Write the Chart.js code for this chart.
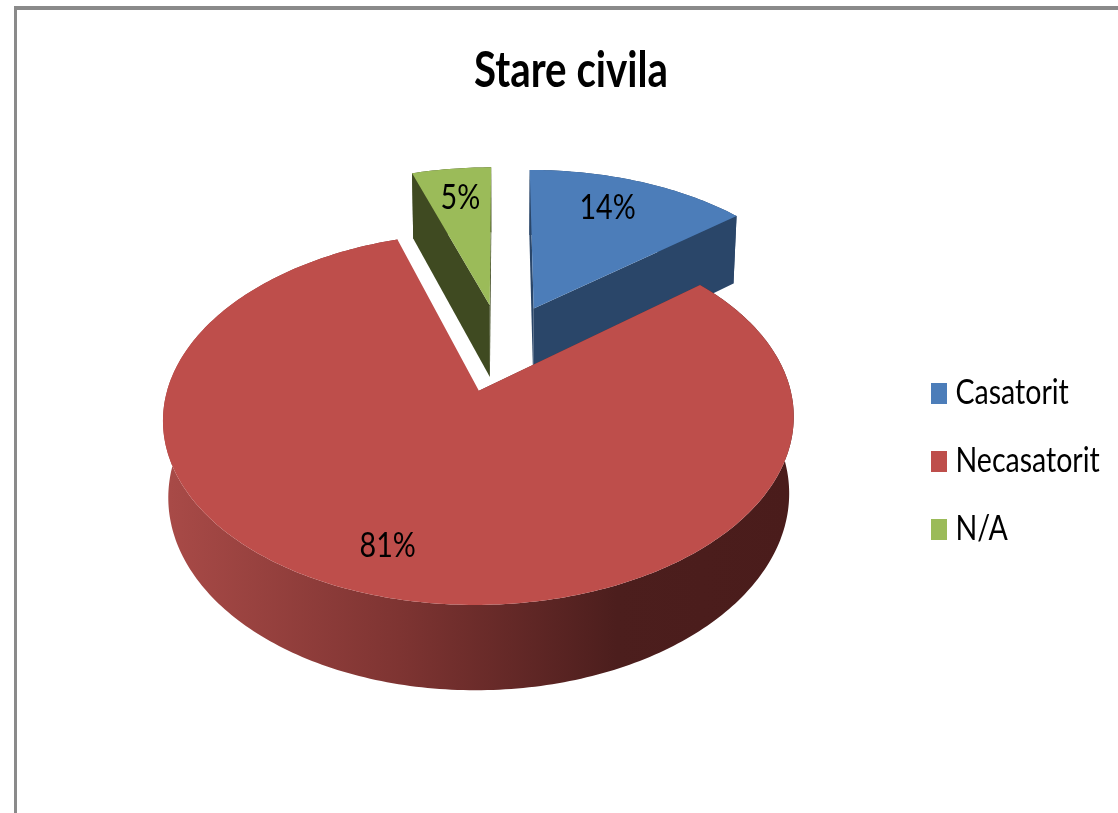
<!DOCTYPE html>
<html>
<head>
<meta charset="utf-8">
<style>html,body{margin:0;padding:0;background:#fff}#w{width:1118px;height:813px}</style>
<script src="https://cdn.jsdelivr.net/npm/chart.js@4"></script>
</head>
<body>
<div id="w"><canvas id="c" width="1118" height="813"></canvas></div>
<script>
const chartTitle = "Stare civila";
const categories = ["Casatorit", "Necasatorit", "N/A"];
const seriesValues = [14, 81, 5];
const faceColors = ["#4C7DB9", "#BE4E4B", "#9BBB59"];
const wallColors = ["#2A4669", "#6E2E2C", "#3F4A21"];
const redWallStops = ["#A84A47", "#7E3432", "#4C1E1D", "#4A1C1B"];
const labelNudge = [[-10, -1], [-13, 4], [1, 1]];
const font = "Lato,'Liberation Sans',sans-serif";
const legendSqueeze = 0.815, titleSqueeze = 0.806, labelSqueeze = 0.82;

// perspective camera for the tilted pie plane
const cam = {cx: 501.5, cy: 347, f: 300.5, b: 169, a: 0.145, depth: 75, shrink: 0.015};
function project(u, v, low) {
  const w = 1 + cam.a * v + (low ? cam.shrink : 0);
  return {x: cam.cx + cam.f * u / w, y: cam.cy - (cam.b * v - (low ? cam.depth : 0)) / w};
}
function planePoint(arc, theta, r) {
  const mid = (arc.startAngle + arc.endAngle) / 2 + Math.PI / 2;
  const e = arc.options.offset / arc.outerRadius;
  return {u: e * Math.sin(mid) + r * Math.sin(theta), v: e * Math.cos(mid) + r * Math.cos(theta)};
}
function rim(arc, low) {
  const s = arc.startAngle + Math.PI / 2, t = arc.endAngle + Math.PI / 2, pts = [];
  const n = Math.max(8, Math.ceil((t - s) * 60));
  for (let i = 0; i <= n; i++) {
    const p = planePoint(arc, s + (t - s) * i / n, 1);
    pts.push(project(p.u, p.v, low));
  }
  return pts;
}
function fillPoly(ctx, pts, style) {
  ctx.beginPath();
  pts.forEach((p, i) => i ? ctx.lineTo(p.x, p.y) : ctx.moveTo(p.x, p.y));
  ctx.closePath();
  ctx.fillStyle = style;
  ctx.fill();
}
// horizontally condense a layout box's own drawing (reference text is narrow)
function squeeze(chart, box, sx, screenPivot, pivot) {
  if (box.__squeezed) return;
  box.__squeezed = true;
  const draw = box.draw.bind(box);
  box.draw = function (area) {
    const ctx = chart.ctx;
    ctx.save();
    ctx.translate(screenPivot, 0);
    ctx.scale(sx, 1);
    ctx.translate(-pivot(), 0);
    draw(area);
    ctx.restore();
  };
}
const pie3d = {
  id: "pie3d",
  beforeDraw(chart) {
    const ctx = chart.ctx;
    squeeze(chart, chart.legend, legendSqueeze, 929, () => chart.legend.left + 24);
    squeeze(chart, chart.titleBlock, titleSqueeze, 571, () => 571);
    ctx.save();
    ctx.fillStyle = "#8A8A8A";
    ctx.fillRect(14, 6, chart.width - 14, 4);
    ctx.fillRect(14, 6, 3, chart.height - 6);
    ctx.restore();
  },
  beforeDatasetsDraw(chart) {
    const ctx = chart.ctx, arcs = chart.getDatasetMeta(0).data;
    ctx.save();
    [2, 0, 1].forEach(i => {
      const arc = arcs[i];
      const top = rim(arc, false), low = rim(arc, true);
      const mid = planePoint(arc, 0, 0);
      const cTop = project(mid.u, mid.v, false), cLow = project(mid.u, mid.v, true);
      let wall = wallColors[i];
      if (i === 1) {
        wall = ctx.createLinearGradient(170, 0, 790, 0);
        redWallStops.forEach((c, k) => wall.addColorStop([0, 0.37, 0.72, 1][k], c));
      }
      fillPoly(ctx, top.concat(low.slice().reverse()), wall);
      fillPoly(ctx, [cTop, top[0], low[0], cLow], wallColors[i]);
      if (i !== 1) {
        const e = top.length - 1;
        fillPoly(ctx, [cTop, top[e], low[e], cLow], wallColors[i]);
      }
      fillPoly(ctx, [cTop].concat(top), faceColors[i]);
    });
    // percentage labels
    ctx.fillStyle = "#000";
    ctx.font = "35px " + font;
    ctx.textAlign = "center";
    ctx.textBaseline = "middle";
    const total = seriesValues.reduce((a, b) => a + b, 0);
    arcs.forEach((arc, i) => {
      const th = (arc.startAngle + arc.endAngle) / 2 + Math.PI / 2;
      const p = planePoint(arc, th, 0.77);
      const s = project(p.u, p.v, false);
      ctx.save();
      ctx.translate(s.x + labelNudge[i][0], s.y + labelNudge[i][1]);
      ctx.scale(labelSqueeze, 1);
      ctx.fillText(Math.round(seriesValues[i] / total * 100) + "%", 0, 0);
      ctx.restore();
    });
    ctx.restore();
    return false;
  }
};
function swatch(color) {
  const k = document.createElement("canvas");
  k.width = Math.round(16 / legendSqueeze); k.height = 21;
  const g = k.getContext("2d");
  g.fillStyle = color; g.fillRect(0, 0, k.width, 21);
  return k;
}
new Chart(document.getElementById("c"), {
  type: "pie",
  plugins: [pie3d],
  data: {
    labels: categories,
    datasets: [{data: seriesValues, backgroundColor: faceColors, borderWidth: 0, offset: 65, radius: 250}]
  },
  options: {
    responsive: false,
    animation: false,
    layout: {padding: {left: 24, right: 0, top: 41, bottom: 0}},
    plugins: {
      tooltip: {enabled: false},
      title: {
        display: true, text: chartTitle, color: "#000",
        font: {family: font, size: 50, weight: "bold"},
        padding: {top: 0, bottom: 8}
      },
      legend: {
        position: "right",
        fullSize: false,
        labels: {
          color: "#000",
          font: {family: font, size: 35},
          usePointStyle: true, pointStyleWidth: 6, padding: 33,
          generateLabels(chart) {
            return Chart.overrides.doughnut.plugins.legend.labels.generateLabels(chart)
              .map((l, i) => Object.assign(l, {pointStyle: swatch(faceColors[i])}));
          }
        }
      }
    }
  }
});
</script>
</body>
</html>
